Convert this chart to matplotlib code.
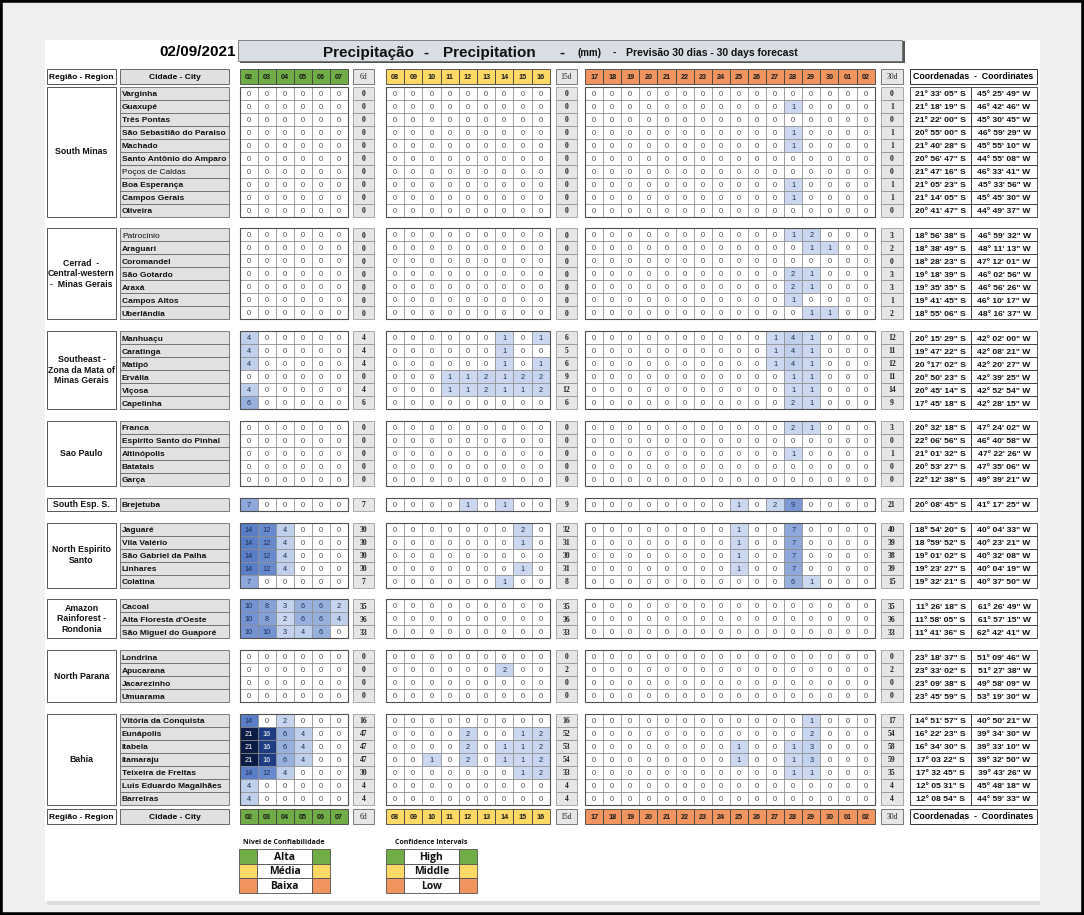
import numpy as np
import matplotlib.pyplot as plt
from matplotlib.patches import Rectangle
from matplotlib.colors import LinearSegmentedColormap

plt.rcParams['font.family'] = ['Liberation Sans', 'DejaVu Sans']

date_label = '02/09/2021'
days_6 = ['02', '03', '04', '05', '06', '07']
days_15 = ['08', '09', '10', '11', '12', '13', '14', '15', '16']
days_30 = ['17', '18', '19', '20', '21', '22', '23', '24', '25', '26', '27', '28', '29', '30', '01', '02']

regions = ['South Minas', 'Cerrad  -\nCentral-western\n-  Minas Gerais', 'Southeast -\nZona da Mata of\nMinas Gerais',
           'Sao Paulo', 'South Esp. S.', 'North Espirito\nSanto', 'Amazon\nRainforest -\nRondonia',
           'North Parana', 'Bahia']

cities = [
    ['Varginha', 'Guaxupé', 'Três Pontas', 'São Sebastião do Paraiso', 'Machado', 'Santo Antônio do Amparo',
     'Poços de Caldas', 'Boa Esperança', 'Campos Gerais', 'Oliveira'],
    ['Patrocinio', 'Araguari', 'Coromandel', 'São Gotardo', 'Araxá', 'Campos Altos', 'Uberlândia'],
    ['Manhuaçu', 'Caratinga', 'Matipó', 'Ervália', 'Viçosa', 'Capelinha'],
    ['Franca', 'Espirito Santo do Pinhal', 'Altinópolis', 'Batatais', 'Garça'],
    ['Brejetuba'],
    ['Jaguaré', 'Vila Valério', 'São Gabriel da Palha', 'Linhares', 'Colatina'],
    ['Cacoal', "Alta Floresta d'Oeste", 'São Miguel do Guaporé'],
    ['Londrina', 'Apucarana', 'Jacarezinho', 'Umuarama'],
    ['Vitória da Conquista', 'Eunápolis', 'Itabela', 'Itamaraju', 'Teixeira de Freitas',
     'Luis Eduardo Magalhães', 'Barreiras'],
]
light_names = ['Poços de Caldas', 'Patrocinio']

# daily rain (mm), days 02-07
rain_6 = [
    [0, 0, 0, 0, 0, 0], [0, 0, 0, 0, 0, 0], [0, 0, 0, 0, 0, 0], [0, 0, 0, 0, 0, 0], [0, 0, 0, 0, 0, 0],
    [0, 0, 0, 0, 0, 0], [0, 0, 0, 0, 0, 0], [0, 0, 0, 0, 0, 0], [0, 0, 0, 0, 0, 0], [0, 0, 0, 0, 0, 0],
    [0, 0, 0, 0, 0, 0], [0, 0, 0, 0, 0, 0], [0, 0, 0, 0, 0, 0], [0, 0, 0, 0, 0, 0], [0, 0, 0, 0, 0, 0],
    [0, 0, 0, 0, 0, 0], [0, 0, 0, 0, 0, 0],
    [4, 0, 0, 0, 0, 0], [4, 0, 0, 0, 0, 0], [4, 0, 0, 0, 0, 0], [0, 0, 0, 0, 0, 0], [4, 0, 0, 0, 0, 0],
    [6, 0, 0, 0, 0, 0],
    [0, 0, 0, 0, 0, 0], [0, 0, 0, 0, 0, 0], [0, 0, 0, 0, 0, 0], [0, 0, 0, 0, 0, 0], [0, 0, 0, 0, 0, 0],
    [7, 0, 0, 0, 0, 0],
    [14, 12, 4, 0, 0, 0], [14, 12, 4, 0, 0, 0], [14, 12, 4, 0, 0, 0], [14, 12, 4, 0, 0, 0], [7, 0, 0, 0, 0, 0],
    [10, 8, 3, 6, 6, 2], [10, 8, 2, 6, 6, 4], [10, 10, 3, 4, 6, 0],
    [0, 0, 0, 0, 0, 0], [0, 0, 0, 0, 0, 0], [0, 0, 0, 0, 0, 0], [0, 0, 0, 0, 0, 0],
    [14, 0, 2, 0, 0, 0], [21, 16, 6, 4, 0, 0], [21, 16, 6, 4, 0, 0], [21, 16, 6, 4, 0, 0],
    [14, 12, 4, 0, 0, 0], [4, 0, 0, 0, 0, 0], [4, 0, 0, 0, 0, 0],
]

# days 08-16
rain_15 = [
    [0, 0, 0, 0, 0, 0, 0, 0, 0], [0, 0, 0, 0, 0, 0, 0, 0, 0], [0, 0, 0, 0, 0, 0, 0, 0, 0],
    [0, 0, 0, 0, 0, 0, 0, 0, 0], [0, 0, 0, 0, 0, 0, 0, 0, 0], [0, 0, 0, 0, 0, 0, 0, 0, 0],
    [0, 0, 0, 0, 0, 0, 0, 0, 0], [0, 0, 0, 0, 0, 0, 0, 0, 0], [0, 0, 0, 0, 0, 0, 0, 0, 0],
    [0, 0, 0, 0, 0, 0, 0, 0, 0],
    [0, 0, 0, 0, 0, 0, 0, 0, 0], [0, 0, 0, 0, 0, 0, 0, 0, 0], [0, 0, 0, 0, 0, 0, 0, 0, 0],
    [0, 0, 0, 0, 0, 0, 0, 0, 0], [0, 0, 0, 0, 0, 0, 0, 0, 0], [0, 0, 0, 0, 0, 0, 0, 0, 0],
    [0, 0, 0, 0, 0, 0, 0, 0, 0],
    [0, 0, 0, 0, 0, 0, 1, 0, 1], [0, 0, 0, 0, 0, 0, 1, 0, 0], [0, 0, 0, 0, 0, 0, 1, 0, 1],
    [0, 0, 0, 1, 1, 2, 1, 2, 2], [0, 0, 0, 1, 1, 2, 1, 1, 2], [0, 0, 0, 0, 0, 0, 0, 0, 0],
    [0, 0, 0, 0, 0, 0, 0, 0, 0], [0, 0, 0, 0, 0, 0, 0, 0, 0], [0, 0, 0, 0, 0, 0, 0, 0, 0],
    [0, 0, 0, 0, 0, 0, 0, 0, 0], [0, 0, 0, 0, 0, 0, 0, 0, 0],
    [0, 0, 0, 0, 1, 0, 1, 0, 0],
    [0, 0, 0, 0, 0, 0, 0, 2, 0], [0, 0, 0, 0, 0, 0, 0, 1, 0], [0, 0, 0, 0, 0, 0, 0, 0, 0],
    [0, 0, 0, 0, 0, 0, 0, 1, 0], [0, 0, 0, 0, 0, 0, 1, 0, 0],
    [0, 0, 0, 0, 0, 0, 0, 0, 0], [0, 0, 0, 0, 0, 0, 0, 0, 0], [0, 0, 0, 0, 0, 0, 0, 0, 0],
    [0, 0, 0, 0, 0, 0, 0, 0, 0], [0, 0, 0, 0, 0, 0, 2, 0, 0], [0, 0, 0, 0, 0, 0, 0, 0, 0],
    [0, 0, 0, 0, 0, 0, 0, 0, 0],
    [0, 0, 0, 0, 0, 0, 0, 0, 0], [0, 0, 0, 0, 2, 0, 0, 1, 2], [0, 0, 0, 0, 2, 0, 1, 1, 2],
    [0, 0, 1, 0, 2, 0, 1, 1, 2], [0, 0, 0, 0, 0, 0, 0, 1, 2], [0, 0, 0, 0, 0, 0, 0, 0, 0],
    [0, 0, 0, 0, 0, 0, 0, 0, 0],
]

# days 17-02
rain_30 = [
    [0, 0, 0, 0, 0, 0, 0, 0, 0, 0, 0, 0, 0, 0, 0, 0],
    [0, 0, 0, 0, 0, 0, 0, 0, 0, 0, 0, 1, 0, 0, 0, 0],
    [0, 0, 0, 0, 0, 0, 0, 0, 0, 0, 0, 0, 0, 0, 0, 0],
    [0, 0, 0, 0, 0, 0, 0, 0, 0, 0, 0, 1, 0, 0, 0, 0],
    [0, 0, 0, 0, 0, 0, 0, 0, 0, 0, 0, 1, 0, 0, 0, 0],
    [0, 0, 0, 0, 0, 0, 0, 0, 0, 0, 0, 0, 0, 0, 0, 0],
    [0, 0, 0, 0, 0, 0, 0, 0, 0, 0, 0, 0, 0, 0, 0, 0],
    [0, 0, 0, 0, 0, 0, 0, 0, 0, 0, 0, 1, 0, 0, 0, 0],
    [0, 0, 0, 0, 0, 0, 0, 0, 0, 0, 0, 1, 0, 0, 0, 0],
    [0, 0, 0, 0, 0, 0, 0, 0, 0, 0, 0, 0, 0, 0, 0, 0],
    [0, 0, 0, 0, 0, 0, 0, 0, 0, 0, 0, 1, 2, 0, 0, 0],
    [0, 0, 0, 0, 0, 0, 0, 0, 0, 0, 0, 0, 1, 1, 0, 0],
    [0, 0, 0, 0, 0, 0, 0, 0, 0, 0, 0, 0, 0, 0, 0, 0],
    [0, 0, 0, 0, 0, 0, 0, 0, 0, 0, 0, 2, 1, 0, 0, 0],
    [0, 0, 0, 0, 0, 0, 0, 0, 0, 0, 0, 2, 1, 0, 0, 0],
    [0, 0, 0, 0, 0, 0, 0, 0, 0, 0, 0, 1, 0, 0, 0, 0],
    [0, 0, 0, 0, 0, 0, 0, 0, 0, 0, 0, 0, 1, 1, 0, 0],
    [0, 0, 0, 0, 0, 0, 0, 0, 0, 0, 1, 4, 1, 0, 0, 0],
    [0, 0, 0, 0, 0, 0, 0, 0, 0, 0, 1, 4, 1, 0, 0, 0],
    [0, 0, 0, 0, 0, 0, 0, 0, 0, 0, 1, 4, 1, 0, 0, 0],
    [0, 0, 0, 0, 0, 0, 0, 0, 0, 0, 0, 1, 1, 0, 0, 0],
    [0, 0, 0, 0, 0, 0, 0, 0, 0, 0, 0, 1, 1, 0, 0, 0],
    [0, 0, 0, 0, 0, 0, 0, 0, 0, 0, 0, 2, 1, 0, 0, 0],
    [0, 0, 0, 0, 0, 0, 0, 0, 0, 0, 0, 2, 1, 0, 0, 0],
    [0, 0, 0, 0, 0, 0, 0, 0, 0, 0, 0, 0, 0, 0, 0, 0],
    [0, 0, 0, 0, 0, 0, 0, 0, 0, 0, 0, 1, 0, 0, 0, 0],
    [0, 0, 0, 0, 0, 0, 0, 0, 0, 0, 0, 0, 0, 0, 0, 0],
    [0, 0, 0, 0, 0, 0, 0, 0, 0, 0, 0, 0, 0, 0, 0, 0],
    [0, 0, 0, 0, 0, 0, 0, 0, 1, 0, 2, 9, 0, 0, 0, 0],
    [0, 0, 0, 0, 0, 0, 0, 0, 1, 0, 0, 7, 0, 0, 0, 0],
    [0, 0, 0, 0, 0, 0, 0, 0, 1, 0, 0, 7, 0, 0, 0, 0],
    [0, 0, 0, 0, 0, 0, 0, 0, 1, 0, 0, 7, 0, 0, 0, 0],
    [0, 0, 0, 0, 0, 0, 0, 0, 1, 0, 0, 7, 0, 0, 0, 0],
    [0, 0, 0, 0, 0, 0, 0, 0, 0, 0, 0, 6, 1, 0, 0, 0],
    [0, 0, 0, 0, 0, 0, 0, 0, 0, 0, 0, 0, 0, 0, 0, 0],
    [0, 0, 0, 0, 0, 0, 0, 0, 0, 0, 0, 0, 0, 0, 0, 0],
    [0, 0, 0, 0, 0, 0, 0, 0, 0, 0, 0, 0, 0, 0, 0, 0],
    [0, 0, 0, 0, 0, 0, 0, 0, 0, 0, 0, 0, 0, 0, 0, 0],
    [0, 0, 0, 0, 0, 0, 0, 0, 0, 0, 0, 0, 0, 0, 0, 0],
    [0, 0, 0, 0, 0, 0, 0, 0, 0, 0, 0, 0, 0, 0, 0, 0],
    [0, 0, 0, 0, 0, 0, 0, 0, 0, 0, 0, 0, 0, 0, 0, 0],
    [0, 0, 0, 0, 0, 0, 0, 0, 0, 0, 0, 0, 1, 0, 0, 0],
    [0, 0, 0, 0, 0, 0, 0, 0, 0, 0, 0, 0, 2, 0, 0, 0],
    [0, 0, 0, 0, 0, 0, 0, 0, 1, 0, 0, 1, 3, 0, 0, 0],
    [0, 0, 0, 0, 0, 0, 0, 0, 1, 0, 0, 1, 3, 0, 0, 0],
    [0, 0, 0, 0, 0, 0, 0, 0, 0, 0, 0, 1, 1, 0, 0, 0],
    [0, 0, 0, 0, 0, 0, 0, 0, 0, 0, 0, 0, 0, 0, 0, 0],
    [0, 0, 0, 0, 0, 0, 0, 0, 0, 0, 0, 0, 0, 0, 0, 0],
]

lat = ['21° 33\' 05" S', '21° 18\' 19" S', '21° 22\' 00" S', '20° 55\' 00" S', '21° 40\' 28" S',
       '20° 56\' 47" S', '21° 47\' 16" S', '21° 05\' 23" S', '21° 14\' 05" S', '20° 41\' 47" S',
       '18° 56\' 38" S', '18° 38\' 49" S', '18° 28\' 23" S', '19° 18\' 39" S', '19° 35\' 35" S',
       '19° 41\' 45" S', '18° 55\' 06" S',
       '20° 15\' 29" S', '19° 47\' 22" S', '20 °17\' 02" S', '20° 50\' 23" S', '20° 45\' 14" S',
       '17° 45\' 18" S',
       '20° 32\' 18" S', '22° 06\' 56" S', '21° 01\' 32" S', '20° 53\' 27" S', '22° 12\' 38" S',
       '20° 08\' 45" S',
       '18° 54\' 20" S', '18 °59\' 52" S', '19° 01\' 02" S', '19° 23\' 27" S', '19° 32\' 21" S',
       '11° 26\' 18" S', '11° 58\' 05" S', '11° 41\' 36" S',
       '23° 18\' 37" S', '23° 33\' 02" S', '23° 09\' 38" S', '23° 45\' 59" S',
       '14° 51\' 57" S', '16° 22\' 23" S', '16° 34\' 30" S', '17° 03 22" S', '17° 32 45" S',
       '12° 05 31" S', '12° 08 54" S']
lon = ['45° 25\' 49" W', '46° 42\' 46" W', '45° 30\' 45" W', '46° 59\' 29" W', '45° 55\' 10" W',
       '44° 55\' 08" W', '46° 33\' 41" W', '45° 33\' 56" W', '45° 45\' 30" W', '44° 49\' 37" W',
       '46° 59\' 32" W', '48° 11\' 13" W', '47° 12\' 01" W', '46° 02\' 56" W', '46° 56\' 26" W',
       '46° 10\' 17" W', '48° 16\' 37" W',
       '42° 02\' 00" W', '42° 08\' 21" W', '42° 20\' 27" W', '42° 39\' 25" W', '42° 52\' 54" W',
       '42° 28\' 15" W',
       '47° 24\' 02" W', '46° 40\' 58" W', '47° 22\' 26" W', '47° 35\' 06" W', '49° 39\' 21" W',
       '41° 17\' 25" W',
       '40° 04\' 33" W', '40° 23\' 21" W', '40° 32\' 08" W', '40° 04\' 19" W', '40° 37\' 50" W',
       '61° 26\' 49" W', '61° 57\' 15" W', '62° 42\' 41" W',
       '51° 09\' 46" W', '51° 27\' 38" W', '49° 58\' 09" W', '53° 19\' 30" W',
       '40° 50\' 21" W', '39° 34\' 30" W', '39° 33\' 10" W', '39° 32\' 50" W', '39° 43\' 26" W',
       '45° 48\' 18" W', '44° 59\' 33" W']

legend_pt = ['Alta', 'Média', 'Baixa']
legend_en = ['High', 'Middle', 'Low']

# ---- styling / layout ----
GREEN, YELLOW, ORANGE = '#70ad47', '#ffd966', '#f0955f'
ROW_H, Y0, GAP = 13.0, 86.5, 11.8
X_REG, W_REG = 47, 69
X_CITY, W_CITY = 120, 109
blocks = [(240, 18.0, days_6, GREEN, (353, 21), '6d'),
          (386, 18.2, days_15, YELLOW, (556, 21), '15d'),
          (585, 18.1, days_30, ORANGE, (881, 22), '30d')]
X_LAT, X_LON, X_END = 910, 971, 1037
LEG_FONT = ['Open Sans', 'DejaVu Sans']

blue = LinearSegmentedColormap.from_list('rain', [
    (0.0, '#cbd8ef'), (3 / 20, '#bfcfec'), (5 / 20, '#97b0de'), (8 / 20, '#7b98d4'),
    (13 / 20, '#5a7fc8'), (15 / 20, '#1e3c82'), (1.0, '#0b1c44')])

fig = plt.figure(figsize=(10.84, 9.15), dpi=100, facecolor='#eef0f1')
ax = fig.add_axes([0, 0, 1, 1])
ax.set_xlim(0, 1084)
ax.set_ylim(915, 0)
ax.axis('off')


def box(x, y, w, h, fc='white', ec='#7a7a7a', lw=0.6, z=2):
    ax.add_patch(Rectangle((x, y), w, h, facecolor=fc, edgecolor=ec, linewidth=lw, zorder=z))


def txt(x, y, s, size=5, weight='normal', ha='center', color='#222222', **kw):
    # place baseline so that the cap height is centred on y (y axis points down)
    ax.text(x, y + 0.36 * size * 100 / 72, s, fontsize=size, fontweight=weight, ha=ha, va='baseline',
            color=color, zorder=5, **kw)


# page and frame
ax.add_patch(Rectangle((0, 0), 1084, 915, facecolor='none', edgecolor='black', linewidth=4, zorder=10))
box(47, 901, 993, 4, fc='#dcdedf', ec='none', lw=0, z=0)
box(45, 40, 995, 861, fc='white', ec='none', lw=0, z=0)

# title
box(240, 41, 665, 22, fc='#555555', ec='none', lw=0, z=1)
box(238, 40, 664, 21, fc='#d9dde4', ec='#6f6f6f', lw=0.6, z=2)
txt(236, 51, date_label, size=11, weight='bold', ha='right', color='black')
txt(323, 51, 'Precipitação', size=11, weight='bold', ha='left', color='#111111')
txt(426, 51, '-', size=11, weight='bold', color='#111111')
txt(443, 51, 'Precipitation', size=11, weight='bold', ha='left', color='#111111')
txt(562, 51, '-', size=11, weight='bold', color='#111111')
txt(577, 52, '(mm)', size=7, weight='bold', ha='left', color='#111111')
txt(614, 52, '-', size=7.5, weight='bold', color='#111111')
txt(626, 52, 'Previsão 30 dias - 30 days forecast', size=7.5, weight='bold', ha='left', color='#111111')


def header_row(y):
    h = 15
    box(X_REG, y, W_REG, h, ec='#555555', lw=0.7)
    txt(X_REG + W_REG / 2, y + h / 2, 'Região - Region', size=6, weight='bold', color='black')
    box(X_CITY, y, W_CITY, h, fc='#e0e0e0', ec='#666666', lw=0.7)
    txt(X_CITY + W_CITY / 2, y + h / 2, 'Cidade - City', size=6, weight='bold', color='black')
    for x0, w, labels, col, (tx, tw), tl in blocks:
        for i, d in enumerate(labels):
            box(x0 + i * w, y, w, h, fc=col, ec='#404040', lw=0.6)
            txt(x0 + (i + 0.5) * w, y + h / 2, d, size=5.2, weight='bold', color='#1a1a1a')
        box(tx, y, tw, h, fc='#e6e6e6', ec='#666666', lw=0.6)
        txt(tx + tw / 2, y + h / 2, tl, size=5.5, family='Liberation Serif', color='#222222')
    box(X_LAT, y, X_END - X_LAT, h, ec='#333333', lw=0.7)
    txt((X_LAT + X_END) / 2, y + h / 2, 'Coordenadas  -  Coordinates', size=6.3, weight='bold', color='black')


header_row(68.5)
header_row(808.5)

# body
r = 0
y = Y0
for g, names in enumerate(cities):
    n = len(names)
    box(X_REG, y, W_REG, n * ROW_H, ec='#555555', lw=0.7)
    ax.text(X_REG + W_REG / 2, y + n * ROW_H / 2, regions[g], fontsize=6.3, fontweight='bold',
            color='#111111', ha='center', va='center', linespacing=1.25, zorder=5)
    for k, name in enumerate(names):
        yy = y + k * ROW_H
        box(X_CITY, yy, W_CITY, ROW_H, fc='#e1e1e1', ec='#6a6a6a', lw=0.6)
        wt = 'normal' if name in light_names else 'bold'
        txt(X_CITY + 2, yy + ROW_H / 2, name, size=6.0, weight=wt, ha='left', color='#111111')
        vals = [rain_6[r], rain_15[r], rain_30[r]]
        running = 0
        for (x0, w, labels, col, (tx, tw), tl), v in zip(blocks, vals):
            for i, val in enumerate(v):
                fc = 'white' if val == 0 else blue((val - 1) / 20)
                box(x0 + i * w, yy, w, ROW_H, fc=fc, ec='#8a8a8a', lw=0.5)
                tc = 'white' if val >= 16 else ('#4a4a4a' if val == 0 else '#1f2f55')
                txt(x0 + (i + 0.5) * w, yy + ROW_H / 2, str(val), size=5.3, color=tc)
            running += int(np.sum(v))
            box(tx, yy, tw, ROW_H, fc='#e6e6e6', ec='#8a8a8a', lw=0.5)
            txt(tx + tw / 2, yy + ROW_H / 2, str(running), size=5.5, weight='bold',
                family='Liberation Serif', color='#222222')
        box(X_LAT, yy, X_LON - X_LAT, ROW_H, ec='#333333', lw=0.6)
        box(X_LON, yy, X_END - X_LON, ROW_H, ec='#333333', lw=0.6)
        txt((X_LAT + X_LON) / 2, yy + ROW_H / 2, lat[r], size=6.1, weight='bold', color='#111111')
        txt((X_LON + X_END) / 2, yy + ROW_H / 2, lon[r], size=6.1, weight='bold', color='#111111')
        r += 1
    # frame around each coloured block of the group
    for x0, w, labels, col, (tx, tw), tl in blocks:
        box(x0, y, w * len(labels), n * ROW_H, fc='none', ec='#505050', lw=0.8, z=3)
    y += n * ROW_H + GAP

# legends
for lx, title, labels in [(239, 'Nivel de Confiabilidade', legend_pt), (386, 'Confidence Intervals', legend_en)]:
    txt(lx + 45, 842, title, size=5, weight='bold', family=LEG_FONT, color='#111111')
    for i, (lab, col) in enumerate(zip(labels, [GREEN, YELLOW, ORANGE])):
        ly = 849 + i * 14.5
        box(lx, ly, 18, 14.5, fc=col, ec='#505050', lw=0.6)
        box(lx + 18, ly, 55, 14.5, ec='#505050', lw=0.6)
        box(lx + 73, ly, 18, 14.5, fc=col, ec='#505050', lw=0.6)
        txt(lx + 45.5, ly + 7.25, lab, size=7.5, weight='bold', family=LEG_FONT, color='#111111')

fig.savefig('out.png', dpi=100, facecolor=fig.get_facecolor())
